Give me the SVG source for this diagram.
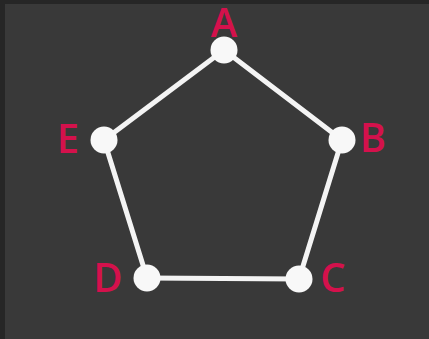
<svg xmlns="http://www.w3.org/2000/svg" width="429" height="339" viewBox="0 0 429 339">
<style>
.edge{stroke:#f4f4f4;stroke-width:5;fill:none;stroke-linecap:round}
.node{fill:#f8f8f8}
.lbl{fill:#d4114c;font-family:"Open Sans",sans-serif;font-weight:600;font-size:40px;text-anchor:middle}
</style>
<rect x="0" y="0" width="429" height="339" fill="#393939"/>
<rect x="0" y="0" width="5" height="339" fill="#262626"/>
<rect x="0" y="0" width="429" height="4" fill="#262626"/>
<g id="connectors">
<line class="edge" x1="224" y1="50" x2="342" y2="140"/>
<line class="edge" x1="342" y1="140" x2="299" y2="279"/>
<line class="edge" x1="299" y1="279" x2="147" y2="278"/>
<line class="edge" x1="147" y1="278" x2="104" y2="140"/>
<line class="edge" x1="104" y1="140" x2="224" y2="50"/>
</g>
<g id="A"><circle class="node" cx="224" cy="50" r="13.5"/><text class="lbl" x="224" y="37" font-size="38">A</text></g>
<g id="B"><circle class="node" cx="342" cy="140" r="13.5"/><text class="lbl" x="373" y="152">B</text></g>
<g id="C"><circle class="node" cx="299" cy="279" r="13.5"/><text class="lbl" x="333" y="292">C</text></g>
<g id="D"><circle class="node" cx="147" cy="278" r="13.5"/><text class="lbl" x="108" y="292">D</text></g>
<g id="E"><circle class="node" cx="104" cy="140" r="13.5"/><text class="lbl" x="68" y="153">E</text></g>
</svg>
